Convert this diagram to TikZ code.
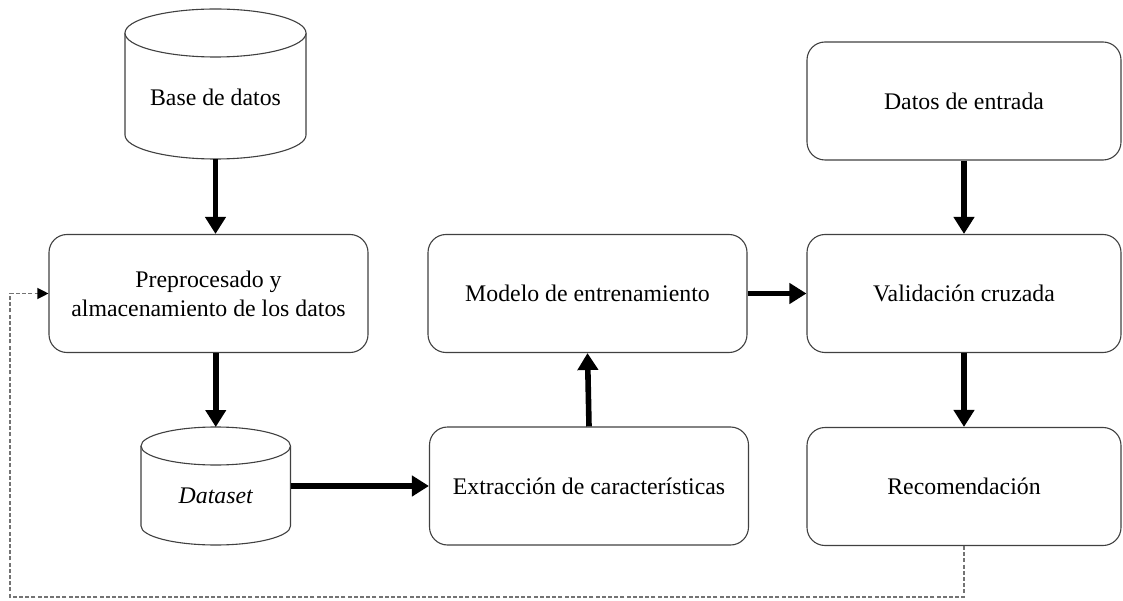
\documentclass[tikz,border=0pt]{standalone}
\usepackage{fontspec}
\setmainfont{Liberation Serif}
\usetikzlibrary{arrows.meta}
\begin{document}
\begin{tikzpicture}[x=1pt,y=-1pt,
  every node/.style={font=\fontsize{23.8}{29}\selectfont},
  procbox/.style={draw=black!75, line width=1.1pt, rounded corners=18pt,
    minimum width=#1, minimum height=118pt, align=center, inner sep=0pt},
  procbox/.default=319pt,
  cylshape/.style={draw=black!75, line width=1.1pt, fill=white},
  ghost/.style={inner sep=0pt, outer sep=0pt},
  flow/.style={line width=5.6pt, -{Triangle[length=17pt,width=20pt]}},
  feedback/.style={draw=black!55, line width=1.2pt, dash pattern=on 4pt off 2.2pt,
    -{Triangle[length=11pt,width=11pt,fill=black,color=black]}}
]
\useasboundingbox (0,0) rectangle (1123,601);

% ---- cylinder: Base de datos ----
\draw[cylshape] (125,33) -- (125,135)
  arc[start angle=180,end angle=360,x radius=90.5pt,y radius=24pt] -- (306,33);
\draw[cylshape] (215.5,33) ellipse[x radius=90.5pt,y radius=24pt];
\node[ghost, minimum width=181pt, minimum height=150pt] (base) at (215.5,84) {};
\node[ghost] (baselabel) at (215.5,97) {Base de datos};

% ---- cylinder: Dataset ----
\draw[cylshape] (141,446) -- (141,526)
  arc[start angle=180,end angle=360,x radius=74.75pt,y radius=19pt] -- (290.5,446);
\draw[cylshape] (215.75,446) ellipse[x radius=74.75pt,y radius=19pt];
\node[ghost, minimum width=149.5pt, minimum height=118pt] (dataset) at (215.75,486) {};
\node[ghost] (datasetlabel) at (215.75,496) {\itshape Dataset};

% ---- process boxes ----
\node[procbox] (pre) at (208.5,293.5) {Preprocesado y\\almacenamiento de los datos};
\node[procbox] (modelo) at (587.5,293.5) {Modelo de entrenamiento};
\node[procbox] (extr) at (589,486) {Extracción de características};
\node[procbox=314pt] (datos) at (964,101) {Datos de entrada};
\node[procbox=314pt] (valid) at (964,293.5) {Validación cruzada};
\node[procbox=314pt] (recom) at (964,486.5) {Recomendación};

% ---- main flow ----
\draw[flow] (base.south) -- (base.south |- pre.north);
\draw[flow] (pre.south -| dataset.north) -- (dataset.north);
\draw[flow] (dataset.east |- extr.west) -- (extr.west);
\draw[flow] (extr.north) -- (modelo.south);
\draw[flow] (modelo.east) -- (valid.west);
\draw[flow] (datos.south) -- (valid.north);
\draw[flow] (valid.south) -- (recom.north);

% ---- feedback loop ----
\coordinate (loopcorner) at (10,597);
\draw[feedback] (recom.south) |- (loopcorner) |- (pre.west);
\end{tikzpicture}
\end{document}
